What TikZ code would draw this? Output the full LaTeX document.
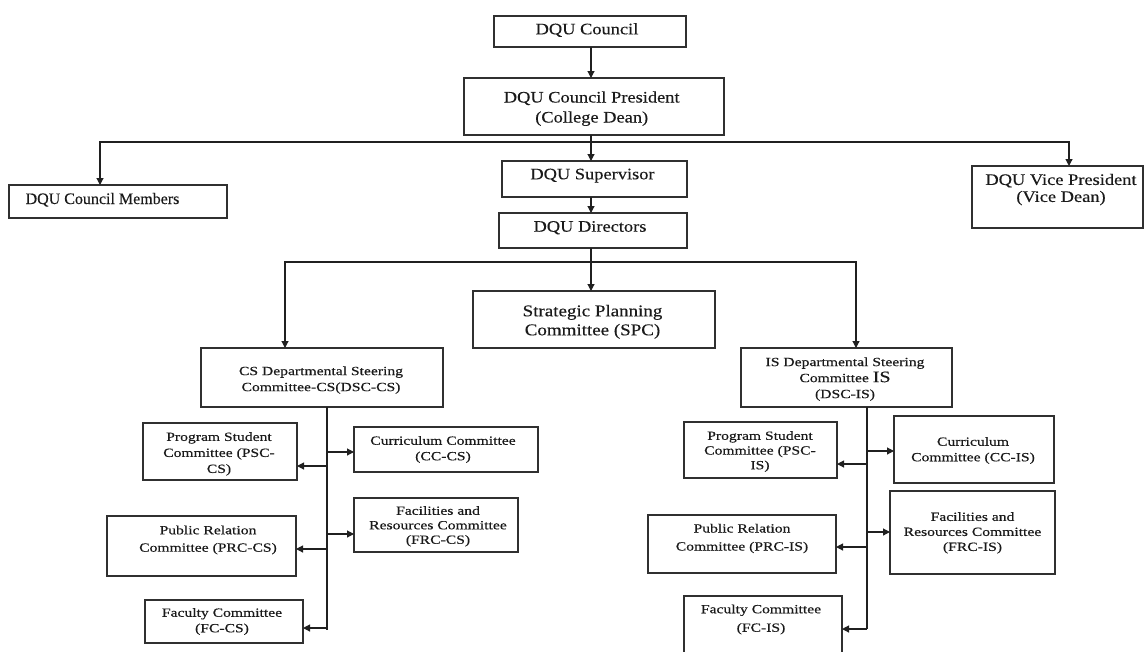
\documentclass[tikz,border=0pt]{standalone}
\usepackage{fontspec}
\setmainfont[FakeBold=0.25]{Liberation Serif}
\newfontfamily\topf[FakeStretch=1.15,FakeBold=0.25]{Liberation Serif}
\newfontfamily\cmf[FakeStretch=1.25,FakeBold=0.45]{Liberation Serif}
\usetikzlibrary{arrows.meta}
\definecolor{boxc}{HTML}{303030}
\definecolor{txtc}{HTML}{1A1A1A}
\definecolor{linec}{HTML}{202020}
\begin{document}
\begin{tikzpicture}[x=1pt,y=-1pt,
  boxn/.style={draw=boxc, line width=1.1pt, inner sep=0pt, outer sep=0pt},
  topt/.style={font=\topf\fontsize{16}{20}\selectfont, align=center, inner sep=0pt, text=txtc},
  plaint/.style={font=\fontsize{16}{20}\selectfont, align=center, inner sep=0pt, text=txtc},
  cmt/.style={font=\cmf\fontsize{12.5}{15.5}\selectfont, align=center, inner sep=0pt, text=txtc},
  conn/.style={draw=linec, line width=1.1pt},
  arr/.style={conn, -{Triangle[length=7pt,width=7pt]}},
]
\clip (0,0) rectangle (1145,651);
\fill[white] (0,0) rectangle (1145,651);

% ---------- boxes ----------
\node[boxn, minimum width=192, minimum height=31] (council) at (590,31.5) {};
\node[boxn, minimum width=260, minimum height=57] (pres) at (594,106.5) {};
\node[boxn, minimum width=185, minimum height=36] (sup) at (594.5,179) {};
\node[boxn, minimum width=188, minimum height=35] (dir) at (593,230.5) {};
\node[boxn, minimum width=218, minimum height=33] (mem) at (118,201.5) {};
\node[boxn, minimum width=171, minimum height=62] (vp) at (1057.5,197) {};
\node[boxn, minimum width=242, minimum height=57] (spc) at (594,319.5) {};
\node[boxn, minimum width=242, minimum height=59] (cs) at (322,377.5) {};
\node[boxn, minimum width=211, minimum height=59] (is) at (846.5,377.5) {};

\node[boxn, minimum width=154, minimum height=57] (psccs) at (220,451.5) {};
\node[boxn, minimum width=184, minimum height=45] (cccs) at (446,449.5) {};
\node[boxn, minimum width=164, minimum height=54] (frccs) at (436,525) {};
\node[boxn, minimum width=189, minimum height=60] (prccs) at (201.5,546) {};
\node[boxn, minimum width=158, minimum height=43] (fccs) at (224,621.5) {};

\node[boxn, minimum width=153, minimum height=56] (pscis) at (760.5,450) {};
\node[boxn, minimum width=160, minimum height=67] (ccis) at (974,449.5) {};
\node[boxn, minimum width=165, minimum height=83] (frcis) at (972.5,532.5) {};
\node[boxn, minimum width=188, minimum height=58] (prcis) at (742,544) {};
\node[boxn, minimum width=158, minimum height=66] (fcis) at (763,629) {};

% ---------- texts ----------
\node[topt] (councilt) at (587,30.3) {\strut DQU Council};
\node[topt] (prest) at (591.7,108.5) {\strut DQU Council President\\(College Dean)\strut};
\node[topt] (supt) at (592.5,175.3) {\strut DQU Supervisor};
\node[topt] (dirt) at (590,227.7) {\strut DQU Directors};
\node[plaint] (memt) at (102.5,200) {\strut DQU Council Members};
\node[topt, font=\topf\fontsize{16}{17}\selectfont] (vpt) at (1061,190) {\strut DQU Vice President\\(Vice Dean)\strut};
\node[topt, font=\topf\fontsize{16.5}{19}\selectfont] (spct) at (592.5,322) {\strut Strategic Planning\\Committee (SPC)\strut};

\node[cmt, font=\cmf\fontsize{12.5}{16}\selectfont] (cst) at (321,379.9) {\strut CS Departmental Steering\\Committee-CS(DSC-CS)\strut};
\node[cmt, font=\cmf\fontsize{12.5}{16}\selectfont] (isti) at (845,378.9) {\strut IS Departmental Steering\\Committee {\fontsize{16}{16}\selectfont IS}\\(DSC-IS)\strut};

\node[cmt, font=\cmf\fontsize{12.5}{16}\selectfont] (psccst) at (219,453.7) {\strut Program Student\\Committee (PSC-\\CS)\strut};
\node[cmt] (cccst) at (443,449.4) {\strut Curriculum Committee\\(CC-CS)\strut};
\node[cmt, font=\cmf\fontsize{12.5}{14.5}\selectfont] (frccst) at (438,526.4) {\strut Facilities and\\Resources Committee\\(FRC-CS)\strut};
\node[cmt, font=\cmf\fontsize{12.5}{17.4}\selectfont] (prccst) at (208,539.5) {\strut Public Relation\\Committee (PRC-CS)\strut};
\node[cmt] (fccst) at (222,621.4) {\strut Faculty Committee\\(FC-CS)\strut};

\node[cmt, font=\cmf\fontsize{12.5}{14.7}\selectfont] (pscist) at (760,451.6) {\strut Program Student\\Committee (PSC-\\IS)\strut};
\node[cmt] (ccist) at (973,450.4) {\strut Curriculum\\Committee (CC-IS)\strut};
\node[cmt, font=\cmf\fontsize{12.5}{15}\selectfont] (frcist) at (972.5,532.9) {\strut Facilities and\\Resources Committee\\(FRC-IS)\strut};
\node[cmt, font=\cmf\fontsize{12.5}{18}\selectfont] (prcist) at (742,537.9) {\strut Public Relation\\Committee (PRC-IS)\strut};
\node[cmt, font=\cmf\fontsize{12.5}{18.5}\selectfont] (fcist) at (761,618.8) {\strut Faculty Committee\\(FC-IS)\strut};

% ---------- connectors, top ----------
\coordinate (sx) at (591,0);
\draw[arr] (council.south -| sx) -- (pres.north -| sx);
\draw[arr] (pres.south -| sx) -- (sup.north -| sx);
\coordinate (bus1) at (591,142);
\coordinate (memin) at ([xshift=-18pt]mem.north);
\coordinate (vpin) at ([xshift=11.5pt]vp.north);
\draw[arr] (bus1) -| (memin);
\draw[arr] (bus1) -| (vpin);
\draw[arr] (sup.south -| sx) -- (dir.north -| sx);
\draw[arr] (dir.south -| sx) -- (spc.north -| sx);
\coordinate (bus2) at (591,262);
\coordinate (csin) at ([xshift=-37pt]cs.north);
\coordinate (isin) at ([xshift=9.5pt]is.north);
\draw[arr] (bus2) -| (csin);
\draw[arr] (bus2) -| (isin);

% ---------- CS subtree ----------
\coordinate (csx) at (327,630);
\draw[conn] (cs.south -| csx) -- (csx);
\coordinate (c1) at ([yshift=-14.5pt]psccs.east);
\coordinate (c2) at ([yshift=-2.5pt]cccs.west);
\coordinate (c3) at ([yshift=-9pt]frccs.west);
\coordinate (c4) at ([yshift=-3pt]prccs.east);
\coordinate (c5) at ([yshift=-6.5pt]fccs.east);
\draw[arr] (csx |- c1) -- (c1);
\draw[arr] (csx |- c2) -- (c2);
\draw[arr] (csx |- c3) -- (c3);
\draw[arr] (csx |- c4) -- (c4);
\draw[arr] (csx |- c5) -- (c5);

% ---------- IS subtree ----------
\coordinate (isx) at (867,629);
\draw[conn] (is.south -| isx) -- (isx);
\coordinate (i1) at ([yshift=-14pt]pscis.east);
\coordinate (i2) at ([yshift=-1.5pt]ccis.west);
\coordinate (i3) at ([yshift=0.5pt]frcis.west);
\coordinate (i4) at ([yshift=-3pt]prcis.east);
\coordinate (i5) at (fcis.east);
\draw[arr] (isx |- i1) -- (i1);
\draw[arr] (isx |- i2) -- (i2);
\draw[arr] (isx |- i3) -- (i3);
\draw[arr] (isx |- i4) -- (i4);
\draw[arr] (isx |- i5) -- (i5);
\end{tikzpicture}
\end{document}
